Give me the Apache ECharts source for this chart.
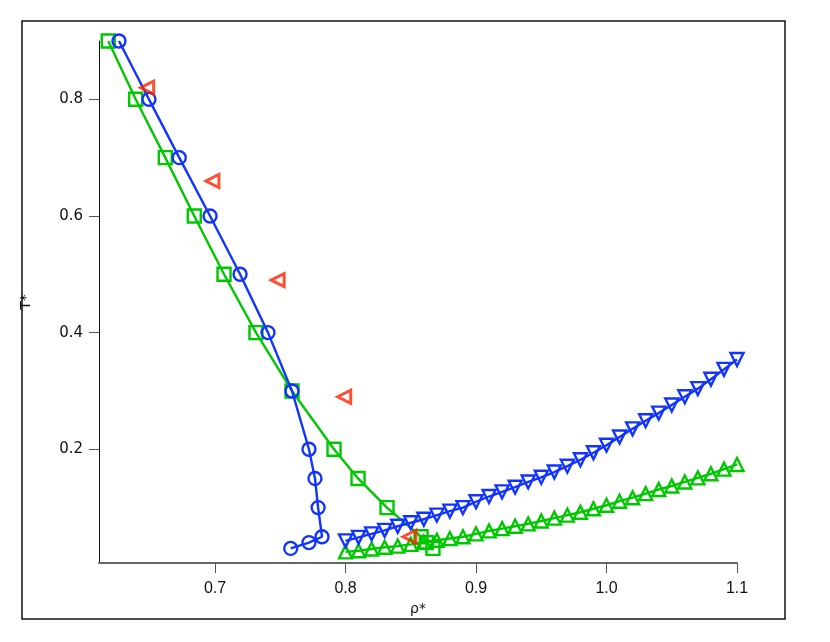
<!DOCTYPE html>
<html>
<head>
<meta charset="utf-8">
<script src="https://cdn.jsdelivr.net/npm/echarts@6/dist/echarts.min.js"></script>
<style>html,body{margin:0;padding:0;background:#fff;}#c{width:830px;height:642px;}</style>
</head>
<body>
<div id="c"></div>
<script>
// Blue circles (line)
const circleRho = [0.6264, 0.6494, 0.6726, 0.6962, 0.7192, 0.7406, 0.759, 0.772, 0.7766, 0.779, 0.782, 0.772, 0.758];
const circleT   = [0.9, 0.8, 0.7, 0.6, 0.5, 0.4, 0.3, 0.2, 0.15, 0.1, 0.05, 0.04, 0.03];
// Green squares (line)
const squareRho = [0.6182, 0.6392, 0.6619, 0.6841, 0.7069, 0.7314, 0.759, 0.7912, 0.8096, 0.8318, 0.8579, 0.862, 0.867];
const squareT   = [0.9, 0.8, 0.7, 0.6, 0.5, 0.4, 0.3, 0.2, 0.15, 0.1, 0.05, 0.04, 0.03];
// Triangles: densities 0.80 .. 1.10
const triRho = [0.80,0.81,0.82,0.83,0.84,0.85,0.86,0.87,0.88,0.89,0.90,0.91,0.92,0.93,0.94,0.95,0.96,0.97,0.98,0.99,1.00,1.01,1.02,1.03,1.04,1.05,1.06,1.07,1.08,1.09,1.10];
const blueTriT = [0.043,0.049,0.055,0.061,0.068,0.074,0.080,0.087,0.094,0.100,0.110,0.119,0.127,0.135,0.144,0.152,0.161,0.171,0.182,0.194,0.207,0.221,0.235,0.249,0.262,0.276,0.290,0.304,0.320,0.337,0.354];
const greenTriT = [0.024,0.026,0.029,0.032,0.034,0.037,0.041,0.044,0.047,0.050,0.055,0.060,0.064,0.068,0.072,0.077,0.082,0.087,0.092,0.098,0.104,0.111,0.117,0.124,0.131,0.137,0.144,0.151,0.158,0.166,0.174];
// Red left triangles (scatter)
const redRho = [0.648, 0.698, 0.748, 0.799, 0.849];
const redT   = [0.82, 0.66, 0.49, 0.29, 0.05];
// Tick labels
const xTicks = [0.7, 0.8, 0.9, 1.0, 1.1];
const yTicks = [0.2, 0.4, 0.6, 0.8];

const BLUE = '#1234ff', GREEN = '#00c800', RED = '#ff2200';
const zip = (a, b) => a.map((v, i) => [v, b[i]]);
const hollow = (c, w) => ({ color: 'rgba(255,255,255,0)', borderColor: c, borderWidth: w || 2.4 });

const chart = echarts.init(document.getElementById('c'), null, { renderer: 'canvas' });
chart.setOption({
  animation: false,
  backgroundColor: '#fff',
  graphic: [{
    type: 'rect', shape: { x: 22, y: 21, width: 763, height: 598 },
    style: { fill: 'none', stroke: '#111', lineWidth: 1.5 }, z: -1
  }],
  grid: { left: 99, right: 93, top: 41, bottom: 79, containLabel: false },
  xAxis: {
    type: 'value', min: 0.6111, max: 1.1,
    name: 'ρ*', nameLocation: 'middle', nameGap: 38,
    nameTextStyle: { fontFamily: 'DejaVu Sans', fontSize: 14, color: '#111' },
    splitLine: { show: false },
    axisLine: { show: true, onZero: false, lineStyle: { color: '#666', width: 2 } },
    axisTick: { show: true, inside: false, length: 10, customValues: xTicks, lineStyle: { color: '#555', width: 1 } },
    axisLabel: { customValues: xTicks, margin: 18, fontFamily: 'Liberation Sans', fontSize: 16, color: '#111',
      formatter: v => v.toFixed(1) }
  },
  yAxis: {
    type: 'value', min: 0.005, max: 0.9,
    name: 'T*', nameLocation: 'middle', nameGap: 66, nameRotate: 90,
    nameTextStyle: { fontFamily: 'DejaVu Sans', fontSize: 14, color: '#111' },
    splitLine: { show: false },
    axisLine: { show: true, onZero: false, lineStyle: { color: '#111', width: 1 } },
    axisTick: { show: true, inside: false, length: 10, customValues: yTicks, lineStyle: { color: '#555', width: 1 } },
    axisLabel: { customValues: yTicks, margin: 16, fontFamily: 'DejaVu Sans', fontSize: 15, color: '#111',
      formatter: v => v.toFixed(1) }
  },
  series: [
    { type: 'line', data: zip(squareRho, squareT), symbol: 'rect', symbolSize: 13, showAllSymbol: true,
      lineStyle: { color: GREEN, width: 2.4 }, itemStyle: hollow(GREEN), z: 2 },
    { type: 'line', data: zip(circleRho, circleT), symbol: 'circle', symbolSize: 13, showAllSymbol: true,
      lineStyle: { color: BLUE, width: 2.4 }, itemStyle: hollow(BLUE), z: 3 },
    { type: 'line', data: zip(triRho, greenTriT), symbol: 'triangle', symbolSize: 13, showAllSymbol: true,
      lineStyle: { color: GREEN, width: 2.4 }, itemStyle: hollow(GREEN), z: 4 },
    { type: 'line', data: zip(triRho, blueTriT), symbol: 'triangle', symbolRotate: 180, symbolSize: 13, showAllSymbol: true,
      lineStyle: { color: BLUE, width: 2.4 }, itemStyle: hollow(BLUE), z: 5 },
    { type: 'scatter', data: zip(redRho, redT), symbol: 'triangle', symbolRotate: 90, symbolSize: 13,
      itemStyle: hollow(RED, 3), z: 6 }
  ]
});
</script>
</body>
</html>
